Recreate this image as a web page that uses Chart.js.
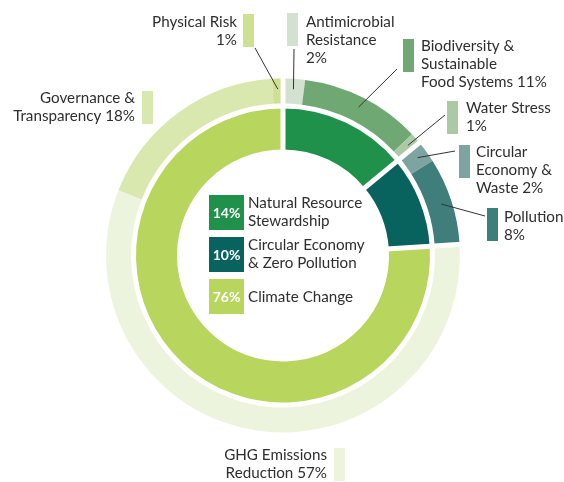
<!DOCTYPE html>
<html>
<head>
<meta charset="utf-8">
<script src="https://cdn.jsdelivr.net/npm/chart.js@4.4.1/dist/chart.umd.min.js"></script>
<style>
  html, body { margin: 0; padding: 0; background: #fff; }
  canvas { display: block; }
</style>
</head>
<body>
<canvas id="ringChart" width="564" height="482"></canvas>
<script>
// outer ring: sub-themes (clockwise from 12 o'clock)
const outerLabels = ['Antimicrobial Resistance', 'Biodiversity & Sustainable Food Systems', 'Water Stress',
    'Circular Economy & Waste', 'Pollution', 'GHG Emissions Reduction', 'Governance & Transparency', 'Physical Risk'];
const outerValues = [2, 11, 1, 2, 8, 57, 18, 1];
const outerColors = ['#d3e1d0', '#6fa872', '#abc9a5', '#7ea4a1', '#3f7e7a', '#edf4de', '#d9e8ae', '#cde192'];

// inner ring: themes
const innerLabels = ['Natural Resource Stewardship', 'Circular Economy & Zero Pollution', 'Climate Change'];
const innerValues = [14, 10, 76];
const innerColors = ['#1f914a', '#08635f', '#b8d55e'];

const FONT = '"Lato", "Open Sans", sans-serif';
const TEXT = '#2e2e2e';

// label layout for the outer ring ({v} gets the value)
const outerLayout = [
    { lines: ['Antimicrobial', 'Resistance', '{v}%'], bar: [287, 13], side: 'left', tx: 306, ty: 27, from: [294, 49] },
    { lines: ['Biodiversity &', 'Sustainable', 'Food Systems {v}%'], bar: [403, 39], side: 'left', tx: 421, ty: 51, from: [397, 69] },
    { lines: ['Water Stress', '{v}%'], bar: [447, 101], side: 'left', tx: 466, ty: 113, from: [445, 115] },
    { lines: ['Circular', 'Economy &', 'Waste {v}%'], bar: [459, 145], side: 'left', tx: 476, ty: 157, from: [455, 151] },
    { lines: ['Pollution', '{v}%'], bar: [487, 208], side: 'left', tx: 504, ty: 222, from: [485, 216] },
    { lines: ['GHG Emissions', 'Reduction {v}%'], bar: [334, 448], side: 'right', tx: 327, ty: 460, from: null },
    { lines: ['Governance &', 'Transparency {v}%'], bar: [142, 91], side: 'right', tx: 135, ty: 103, from: null },
    { lines: ['Physical Risk', '{v}%'], bar: [243, 14], side: 'right', tx: 237, ty: 27, from: [255, 48] }
];
// centre legend lines
const innerLines = [['Natural Resource', 'Stewardship'], ['Circular Economy', '& Zero Pollution'], ['Climate Change']];

const labelPlugin = {
    id: 'ringLabels',
    afterDatasetsDraw(chart) {
        const c = chart.ctx;
        const outerMeta = chart.getDatasetMeta(0);
        const innerMeta = chart.getDatasetMeta(2);

        // white radial gaps at the theme boundaries, through both rings
        innerMeta.data.forEach(arc => {
            const a = arc.startAngle;
            c.save();
            c.strokeStyle = '#ffffff';
            c.lineWidth = 5;
            c.beginPath();
            c.moveTo(arc.x + Math.cos(a) * (arc.innerRadius - 2), arc.y + Math.sin(a) * (arc.innerRadius - 2));
            c.lineTo(arc.x + Math.cos(a) * (outerMeta.data[0].outerRadius + 2), arc.y + Math.sin(a) * (outerMeta.data[0].outerRadius + 2));
            c.stroke();
            c.restore();
        });

        // outer labels, bars and leader lines
        c.save();
        c.font = '15.2px ' + FONT;
        c.textBaseline = 'alphabetic';
        outerMeta.data.forEach((arc, i) => {
            const lay = outerLayout[i];
            c.fillStyle = outerColors[i];
            c.fillRect(lay.bar[0], lay.bar[1], 11, 33);
            c.fillStyle = TEXT;
            c.textAlign = lay.side;
            lay.lines.forEach((ln, k) => {
                c.fillText(ln.replace('{v}', outerValues[i]), lay.tx, lay.ty + k * 18);
            });
            if (lay.from) {
                const mid = (arc.startAngle + arc.endAngle) / 2;
                const r = (arc.innerRadius + arc.outerRadius) / 2 + 2;
                c.strokeStyle = '#333';
                c.lineWidth = 1;
                c.beginPath();
                c.moveTo(lay.from[0], lay.from[1]);
                c.lineTo(arc.x + Math.cos(mid) * r, arc.y + Math.sin(mid) * r);
                c.stroke();
            }
        });

        // centre legend
        innerMeta.data.forEach((arc, i) => {
            const top = 195 + i * 42;
            c.fillStyle = innerColors[i];
            c.fillRect(209, top, 35, 35);
            c.fillStyle = '#ffffff';
            c.font = 'bold 14px ' + FONT;
            c.textAlign = 'center';
            c.textBaseline = 'middle';
            c.fillText(innerValues[i] + '%', 226.5, top + 18);
            c.fillStyle = TEXT;
            c.font = '15.2px ' + FONT;
            c.textAlign = 'left';
            c.textBaseline = 'alphabetic';
            const lines = innerLines[i];
            const first = lines.length > 1 ? top + 13 : top + 23;
            lines.forEach((ln, k) => c.fillText(ln, 248, first + k * 18));
        });
        c.restore();
    }
};

const ctx = document.getElementById('ringChart').getContext('2d');
const ringChart = new Chart(ctx, {
    type: 'doughnut',
    plugins: [labelPlugin],
    data: {
        labels: outerLabels,
        datasets: [
            {
                label: 'Sub-theme',
                data: outerValues,
                backgroundColor: outerColors,
                borderWidth: 0,
                weight: 25
            },
            {
                label: 'gap',
                data: [100],
                backgroundColor: 'rgba(0,0,0,0)',
                borderWidth: 0,
                weight: 5
            },
            {
                label: 'Theme',
                labels: innerLabels,
                data: innerValues,
                backgroundColor: innerColors,
                borderWidth: 0,
                weight: 41
            }
        ]
    },
    options: {
        responsive: false,
        animation: false,
        events: [],
        radius: 177,
        cutout: '59.9%',
        hoverOffset: 0,
        layout: { padding: { left: 106, right: 104, top: 78.5, bottom: 49.5 } },
        plugins: {
            legend: { display: false },
            tooltip: { enabled: false }
        }
    }
});
</script>
</body>
</html>
